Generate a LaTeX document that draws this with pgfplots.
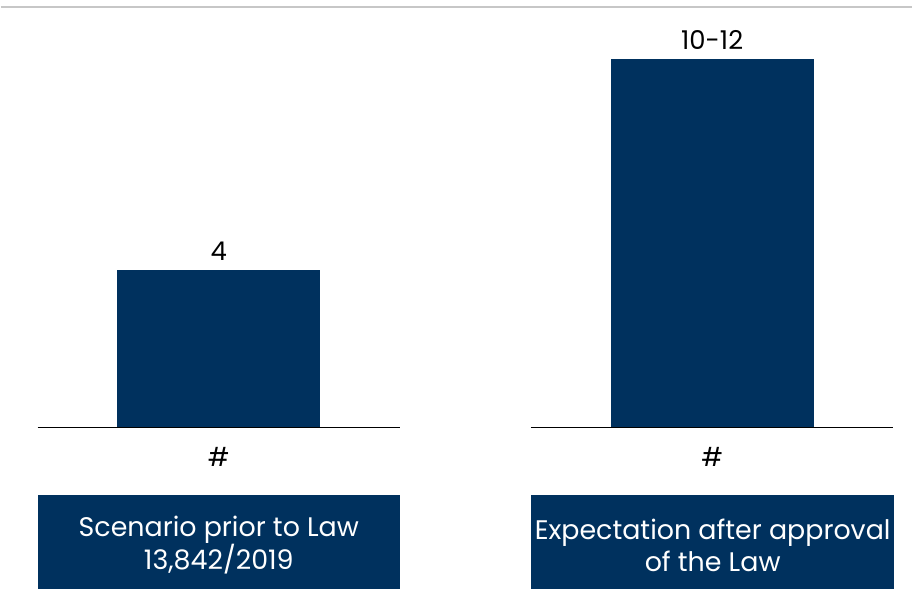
\documentclass[border=0pt]{standalone}
\usepackage{pgfplots}
\pgfplotsset{compat=1.18}
\usepackage{fontspec}
\setmainfont{Poppins}
\definecolor{navy}{RGB}{0,49,94}
\begin{document}
\begin{tikzpicture}[x=1bp,y=1bp]
\path (0,0) rectangle (913,590);
\draw[black!22, line width=1.2bp] (0,583) -- (913,583);
\pgfplotsset{mypanel/.style={
  scale only axis, width=363bp, height=421bp,
  xmin=0, xmax=1, ymin=0,
  axis x line=bottom, axis y line=none,
  x axis line style={-, black, line width=1.3bp},
  xtick={0.5}, xticklabels={\#},
  major tick length=0pt,
  xticklabel style={font=\fontsize{26}{30}\selectfont, yshift=-16bp},
  ybar, bar width=203bp,
  clip=false,
  point meta=explicit symbolic,
  nodes near coords,
  nodes near coords style={font=\fontsize{26}{30}\selectfont, text=black, yshift=6bp},
}}
\begin{axis}[mypanel, at={(37bp,162bp)}, anchor=south west, ymax=10.658]
\addplot[fill=navy, draw=none] coordinates {(0.5,4) [4]};
\end{axis}
\begin{axis}[mypanel, at={(531bp,162bp)}, anchor=south west, ymax=12.549]
\addplot[fill=navy, draw=none] coordinates {(0.5,11) [10-12]};
\end{axis}
\fill[navy] (37,0) rectangle (400,94);
\fill[navy] (531,0) rectangle (895,94);
\node[text=white, align=center, inner sep=0pt, font=\fontsize{27}{32}\selectfont] at (218.5,44) {Scenario prior to Law\\13,842/2019};
\node[text=white, align=center, inner sep=0pt, font=\fontsize{27}{32}\selectfont] at (713,44) {Expectation after approval\\of the Law};
\end{tikzpicture}
\end{document}
